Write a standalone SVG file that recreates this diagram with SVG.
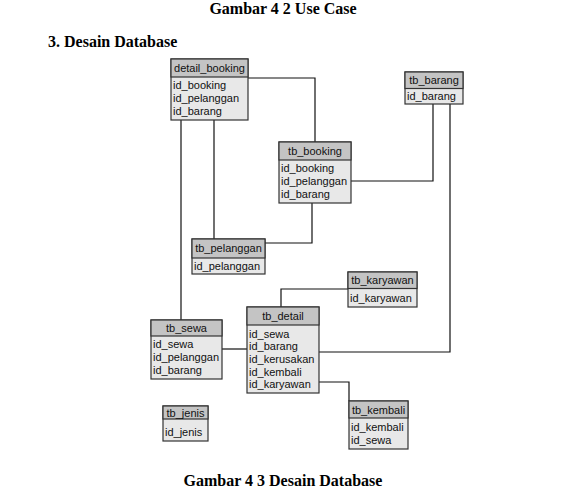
<svg xmlns="http://www.w3.org/2000/svg" width="570" height="492" viewBox="0 0 570 492">
<style>
.title{font-family:"Liberation Serif","Times New Roman",serif;font-weight:bold;font-size:16px;fill:#000}
.hd{fill:#c4c4c4;stroke:#333;stroke-width:1.2}
.bd{fill:#e8e8e8;stroke:#333;stroke-width:1.2}
.t{font-family:"Liberation Sans",Arial,sans-serif;font-size:11px;fill:#111}
.c{text-anchor:middle}
.ln{fill:none;stroke:#111;stroke-width:1.2}
</style>
<rect width="570" height="492" fill="#fff"/>
<text class="title" x="283" y="14" text-anchor="middle">Gambar 4 2 Use Case</text>
<text class="title" x="48" y="47">3. Desain Database</text>
<text class="title" x="283" y="486" text-anchor="middle">Gambar 4 3 Desain Database</text>

<g id="connectors">
<polyline class="ln" points="248,78 315,78 315,142"/>
<polyline class="ln" points="214,120 214,239"/>
<polyline class="ln" points="181,120 181,320"/>
<polyline class="ln" points="351,181 433,181 433,104"/>
<polyline class="ln" points="450,104 450,352 319,352"/>
<polyline class="ln" points="312,203 312,243 265,243"/>
<polyline class="ln" points="222,349 247,349"/>
<polyline class="ln" points="281,307 281,289 348,289"/>
<polyline class="ln" points="319,382 349,382 349,401"/>
</g>

<g id="detail_booking">
<rect class="bd" x="171" y="59" width="77" height="61"/>
<rect class="hd" x="171" y="59" width="77" height="18"/>
<text class="t c" x="209.5" y="72">detail_booking</text>
<text class="t" x="173" y="89">id_booking</text>
<text class="t" x="173" y="102">id_pelanggan</text>
<text class="t" x="173" y="115">id_barang</text>
</g>

<g id="tb_barang">
<rect class="bd" x="405" y="72" width="58" height="32"/>
<rect class="hd" x="405" y="72" width="58" height="16.5"/>
<text class="t c" x="434" y="84">tb_barang</text>
<text class="t" x="407" y="100">id_barang</text>
</g>

<g id="tb_booking">
<rect class="bd" x="279" y="142" width="72" height="61"/>
<rect class="hd" x="279" y="142" width="72" height="18"/>
<text class="t c" x="315" y="155">tb_booking</text>
<text class="t" x="281" y="172">id_booking</text>
<text class="t" x="281" y="185">id_pelanggan</text>
<text class="t" x="281" y="198">id_barang</text>
</g>

<g id="tb_pelanggan">
<rect class="bd" x="192" y="239" width="73" height="35"/>
<rect class="hd" x="192" y="239" width="73" height="19"/>
<text class="t c" x="228.5" y="252">tb_pelanggan</text>
<text class="t" x="194" y="270">id_pelanggan</text>
</g>

<g id="tb_karyawan">
<rect class="bd" x="348" y="272" width="69" height="35"/>
<rect class="hd" x="348" y="272" width="69" height="16.5"/>
<text class="t c" x="382.5" y="284">tb_karyawan</text>
<text class="t" x="350" y="302">id_karyawan</text>
</g>

<g id="tb_sewa">
<rect class="bd" x="151" y="320" width="71" height="59"/>
<rect class="hd" x="151" y="320" width="71" height="16"/>
<text class="t c" x="186.5" y="332">tb_sewa</text>
<text class="t" x="153" y="348">id_sewa</text>
<text class="t" x="153" y="361">id_pelanggan</text>
<text class="t" x="153" y="374">id_barang</text>
</g>

<g id="tb_detail">
<rect class="bd" x="247" y="307" width="72" height="86"/>
<rect class="hd" x="247" y="307" width="72" height="18"/>
<text class="t c" x="283" y="320">tb_detail</text>
<text class="t" x="249" y="337.5">id_sewa</text>
<text class="t" x="249" y="350">id_barang</text>
<text class="t" x="249" y="363">id_kerusakan</text>
<text class="t" x="249" y="375.5">id_kembali</text>
<text class="t" x="249" y="388">id_karyawan</text>
</g>

<g id="tb_jenis">
<rect class="bd" x="163" y="406" width="45" height="35"/>
<rect class="hd" x="163" y="406" width="45" height="13"/>
<text class="t c" x="185.5" y="417">tb_jenis</text>
<text class="t" x="165" y="436">id_jenis</text>
</g>

<g id="tb_kembali">
<rect class="bd" x="349" y="401" width="59" height="48"/>
<rect class="hd" x="349" y="401" width="59" height="17"/>
<text class="t c" x="378.5" y="414">tb_kembali</text>
<text class="t" x="351" y="431">id_kembali</text>
<text class="t" x="351" y="444">id_sewa</text>
</g>
</svg>
